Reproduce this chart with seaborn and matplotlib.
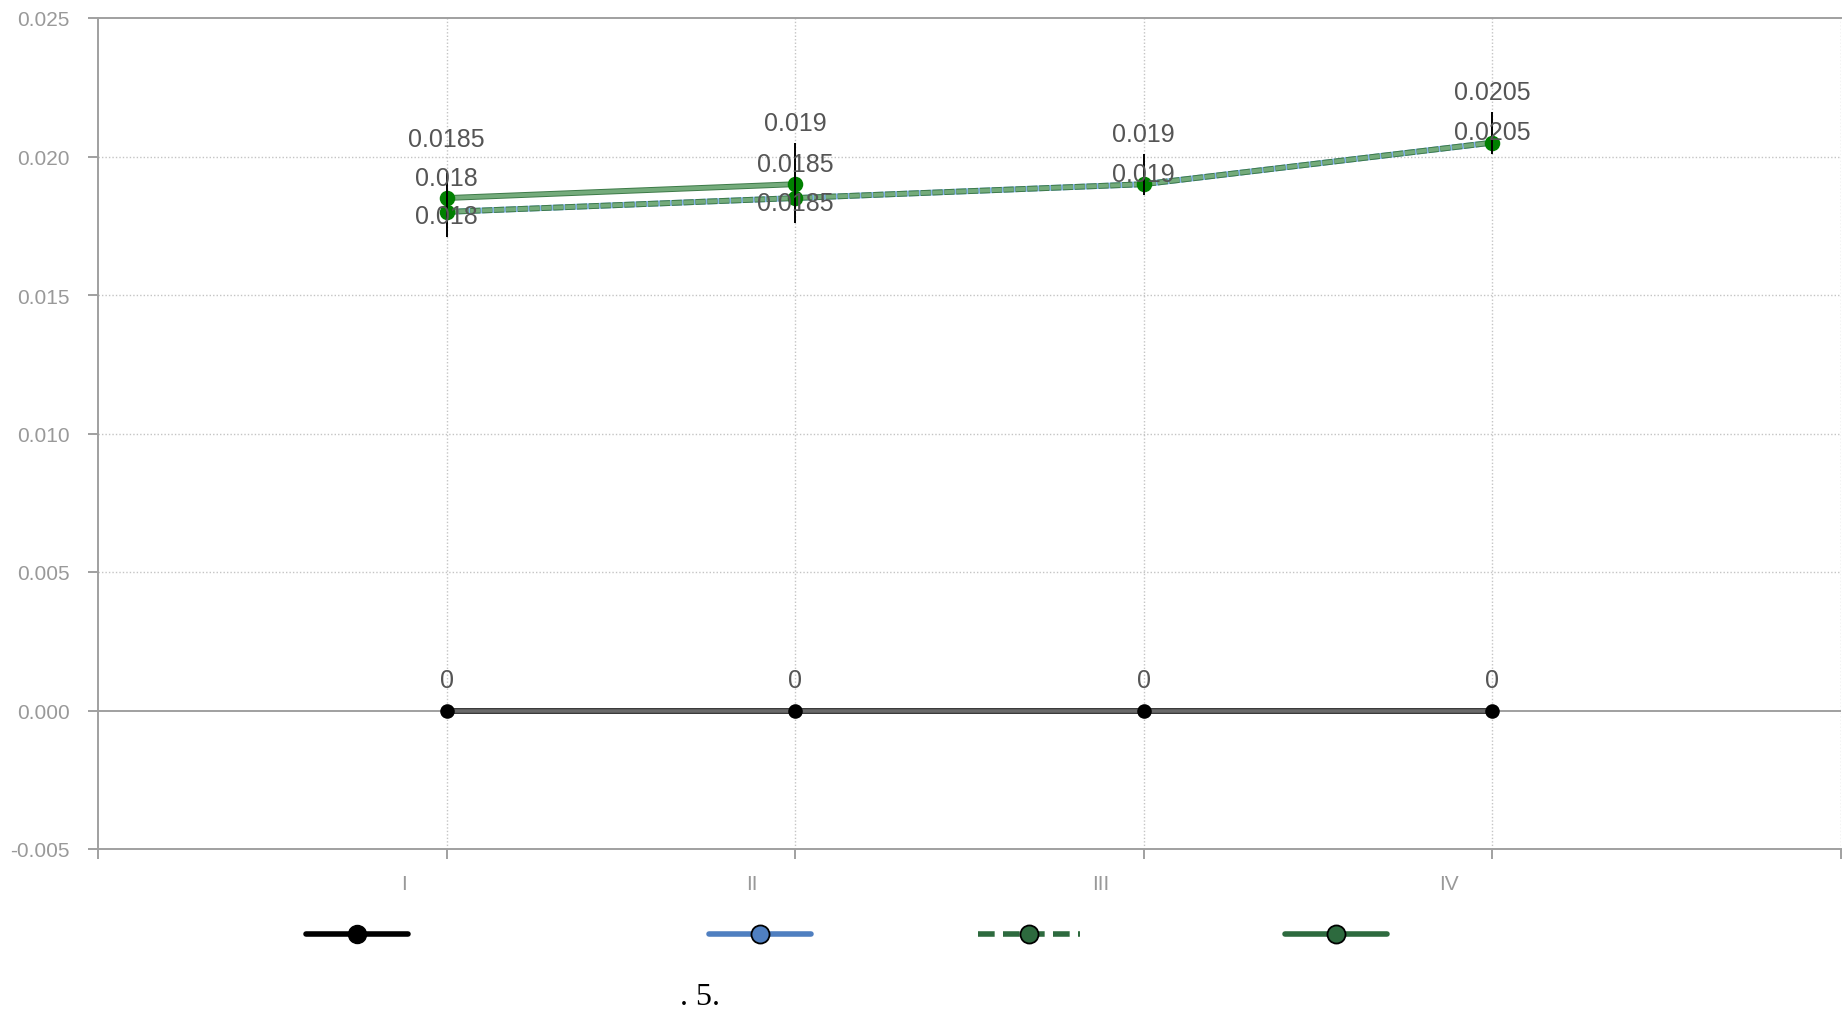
import numpy as np
import seaborn as sns
import matplotlib.pyplot as plt
import matplotlib.patheffects as pe
from matplotlib.lines import Line2D
from matplotlib.transforms import ScaledTranslation

# data
cats = ['I', 'II', 'III', 'IV']
zero_vals = [0, 0, 0, 0]
blue_vals = [0.018, 0.0185, 0.019, 0.0205]
dash_vals = [0.018, 0.0185, 0.019, 0.0205]
solid_vals = [0.0185, 0.019]
err_lo = [0.0171, 0.0176, 0.0186, 0.0201]
err_hi = [0.0194, 0.0205, 0.0201, 0.0216]

# label offsets (px above the point)
zero_off = [30, 30, 30, 30]
blue_off = [-4, -4.5, 10, 11]
dash_off = [34, 34, 50, 51]
solid_off = [59, 61]

sns.set_theme(style='white')
plt.rcParams['font.family'] = ['Liberation Sans', 'DejaVu Sans']

PX = 0.72  # points per pixel at dpi 100
fig = plt.figure(figsize=(18.46, 10.20), dpi=100)
ax = fig.add_axes([98 / 1846, 1 - 850 / 1020, (1841 - 98) / 1846, (850 - 19) / 1020])

xs = np.arange(len(cats))

# grid
for gy in [0.005, 0.010, 0.015, 0.020]:
    ax.axhline(gy, color='#c4c4c4', lw=1, ls=(0, (1, 1.5)), zorder=0)
for gx in range(0, 5):
    ax.axvline(gx, color='#c4c4c4', lw=1, ls=(0, (1, 1.5)), zorder=0)
ax.axhline(0, color='#a0a0a0', lw=1.4, zorder=1)

edge_g = [pe.Stroke(linewidth=4.2, foreground='#3d7a48'), pe.Normal()]
edge_k = [pe.Stroke(linewidth=4.2, foreground='#2a2a2a'), pe.Normal()]

sns.lineplot(x=xs, y=zero_vals, ax=ax, color='#6a6a6a', lw=2.6, path_effects=edge_k, zorder=2)
sns.lineplot(x=xs, y=blue_vals, ax=ax, color='#84b4ea', lw=4.2, zorder=2)
sns.lineplot(x=xs, y=dash_vals, ax=ax, color='#74ab7b', lw=2.8,
             ls=(0, (2.6, 0.45)), path_effects=edge_g, zorder=3)
sns.lineplot(x=xs[:2], y=solid_vals, ax=ax, color='#74ab7b', lw=2.8,
             path_effects=edge_g, zorder=3)

sns.scatterplot(x=xs, y=zero_vals, ax=ax, color='black', s=110, linewidth=0, zorder=4)
sns.scatterplot(x=xs, y=dash_vals, ax=ax, color='#008000', s=125, linewidth=0, zorder=4)
sns.scatterplot(x=xs[:2], y=solid_vals, ax=ax, color='#008000', s=125, linewidth=0, zorder=4)

ax.vlines(xs, err_lo, err_hi, color='black', lw=1.4, zorder=5)

def labels(vals, offs, fmt):
    for x, v, o in zip(xs, vals, offs):
        ax.annotate(fmt(v), (x, v), xytext=(0, o * PX), textcoords='offset points',
                    ha='center', va='center', fontsize=18, color='#555555', zorder=6)

labels(zero_vals, zero_off, lambda v: '0')
labels(blue_vals, blue_off, lambda v: f'{v:g}')
labels(dash_vals, dash_off, lambda v: f'{v:g}')
labels(solid_vals, solid_off, lambda v: f'{v:g}')

ax.set_xlim(-1, 4)
ax.set_ylim(-0.005, 0.025)
ax.set_yticks([-0.005, 0, 0.005, 0.010, 0.015, 0.020, 0.025])
ax.set_yticklabels(['-0.005', '0.000', '0.005', '0.010', '0.015', '0.020', '0.025'])
ax.set_xticks(range(-1, 5))
ax.set_xticklabels([''] + cats + [''])
ax.tick_params(axis='both', colors='#a0a0a0', labelcolor='#999999', labelsize=15,
               length=7.2, width=1.4, direction='out', bottom=True, left=True)
ax.tick_params(axis='y', pad=13)
ax.tick_params(axis='x', pad=10.5)
for lab in ax.get_xticklabels():
    lab.set_transform(lab.get_transform() + ScaledTranslation(-0.43, 0, fig.dpi_scale_trans))

for side in ['left', 'bottom', 'top']:
    ax.spines[side].set_color('#a0a0a0')
    ax.spines[side].set_linewidth(1.4)
ax.spines['right'].set_visible(False)

# legend, one entry each (series names are empty in the reference)
handles = [
    Line2D([], [], color='black', lw=4, marker='o', ms=13, mfc='black', mec='black'),
    Line2D([], [], color='#4f7fc0', lw=4, marker='o', ms=13, mfc='#4f7fc0', mec='black', mew=1.3),
    Line2D([], [], color='#2d6a3e', lw=4, ls=(0, (3, 1.5)), marker='o', ms=13,
           mfc='#2d6a3e', mec='black', mew=1.3),
    Line2D([], [], color='#2d6a3e', lw=4, marker='o', ms=13, mfc='#2d6a3e', mec='black', mew=1.3),
]
for h, cx in zip(handles, [357, 760, 1029, 1336]):
    fig.legend(handles=[h], labels=[''], loc='center', bbox_to_anchor=(cx / 1846, 1 - 936 / 1020),
               frameon=False, handlelength=7.3, handletextpad=0, borderpad=0, fontsize=10)

fig.text(700 / 1846, 1 - 998 / 1020, '. 5.', ha='center', va='center',
         fontsize=23, family='Liberation Serif', color='black')

fig.savefig('out.png', dpi=100)
